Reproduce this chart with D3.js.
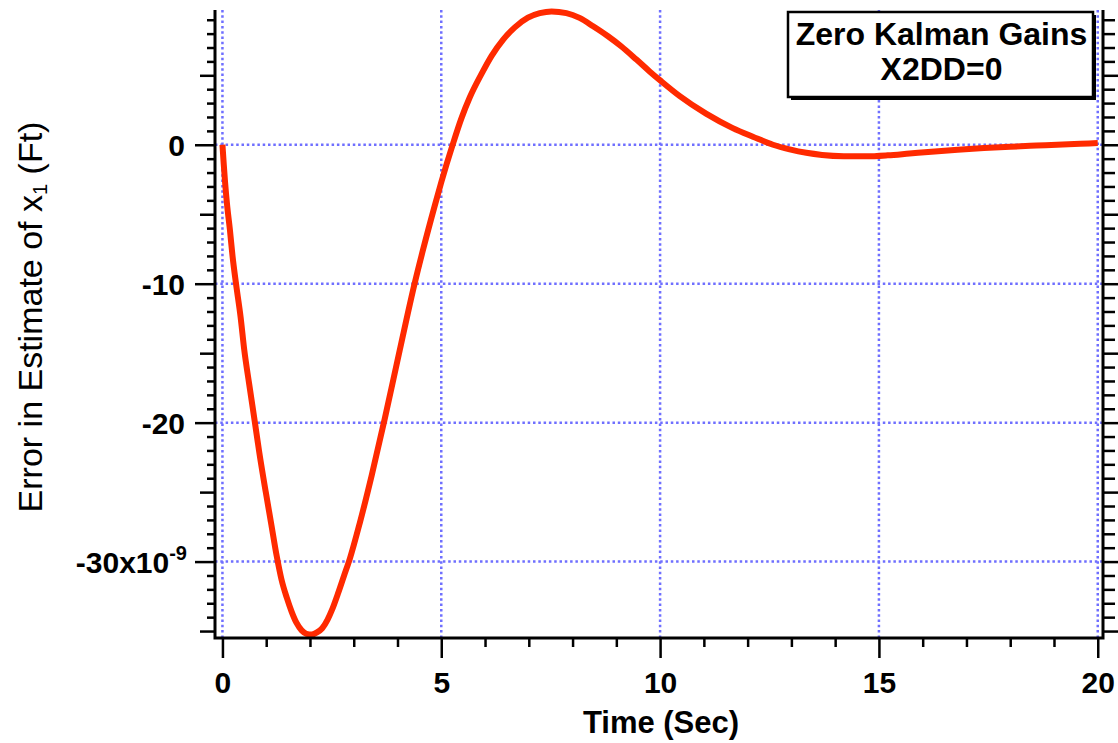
<!DOCTYPE html>
<html>
<head>
<meta charset="utf-8">
<script src="https://cdn.jsdelivr.net/npm/d3@7"></script>
<style>
  html, body { margin: 0; padding: 0; background: #fff; }
  svg { display: block; font-family: "Liberation Sans", Arial, Helvetica, sans-serif; }
</style>
</head>
<body>
<svg id="chart" width="1118" height="743"></svg>
<script>
// Error in the estimate of x1 (units of 1e-9 ft) versus time
const timeSec = [0, 0.03, 0.06, 0.11, 0.17, 0.23, 0.31, 0.415, 0.5, 0.61, 0.74, 0.84, 0.99, 1.11, 1.24,
  1.35, 1.47, 1.58, 1.69, 1.81, 1.92, 2.04, 2.16, 2.28, 2.4, 2.5, 2.64, 2.78, 2.91, 3.14, 3.41, 3.71,
  4.05, 4.39, 4.58, 4.85, 5.0, 5.27, 5.46, 5.65, 5.92, 6.15, 6.41, 6.68, 6.98, 7.25, 7.52, 7.86, 8.16,
  8.47, 8.81, 9.11, 9.46, 9.76, 10.03, 10.45, 11.05, 11.66, 12.12, 12.58, 12.96, 13.34, 13.7, 14.2,
  14.7, 15.2, 15.7, 16.2, 16.8, 17.4, 18.0, 18.6, 19.2, 19.6, 20];
const errorX1 = [0, -1.4, -2.7, -4.45, -6.1, -8.0, -10.0, -12.4, -14.8, -17.2, -19.95, -22.1, -25.0, -27.2, -29.6,
  -31.3, -32.6, -33.6, -34.4, -34.95, -35.2, -35.25, -35.1, -34.8, -34.2, -33.5, -32.3, -31.0, -29.8, -27.2, -23.8, -19.7,
  -14.8, -10.0, -7.6, -4.4, -2.7, 0.1, 1.9, 3.4, 5.1, 6.4, 7.55, 8.45, 9.15, 9.47, 9.6, 9.48, 9.13,
  8.53, 7.81, 7.09, 6.13, 5.28, 4.56, 3.5, 2.24, 1.2, 0.58, 0.0, -0.33, -0.58, -0.73, -0.82,
  -0.83, -0.76, -0.63, -0.5, -0.36, -0.24, -0.14, -0.06, 0.02, 0.07, 0.12];

const xDomain = [-0.17, 20.12];
const yDomain = [-35.5, 9.7];
const xTicks = d3.range(0, 21, 1);
const xLabeled = [0, 5, 10, 15, 20];
const yTicks = d3.range(-35, 10, 1);
const yLabeled = [0, -10, -20, -30];
const yExponent = "-9";
const legendLines = ["Zero Kalman Gains", "X2DD=0"];
const xTitle = "Time (Sec)";

const svg = d3.select("#chart");
const plotL = 215, plotR = 1103, plotT = 10, plotB = 638;

const x = d3.scaleLinear().domain(xDomain).range([plotL, plotR]);
const y = d3.scaleLinear().domain(yDomain).range([plotB, plotT]);

const gridColor = "#6f6fff";

// dotted grid
svg.append("g").selectAll("line").data(xLabeled).join("line")
  .attr("x1", d => x(d)).attr("x2", d => x(d))
  .attr("y1", plotT).attr("y2", plotB)
  .attr("stroke", gridColor).attr("stroke-width", 2.5).attr("stroke-dasharray", "2.5,2.8");
svg.append("g").selectAll("line").data(yLabeled).join("line")
  .attr("x1", plotL).attr("x2", plotR)
  .attr("y1", d => y(d)).attr("y2", d => y(d))
  .attr("stroke", gridColor).attr("stroke-width", 2.5).attr("stroke-dasharray", "2.5,2.8");

// data curve
const line = d3.line()
  .x((d, i) => x(timeSec[i]))
  .y(d => y(d))
  .curve(d3.curveMonotoneX);
svg.append("path")
  .datum(errorX1)
  .attr("d", line)
  .attr("fill", "none")
  .attr("stroke", "#ff2a00")
  .attr("stroke-width", 6)
  .attr("stroke-linejoin", "round");

const tickFont = "bold 30px 'Liberation Sans', Arial, sans-serif";
const yLen = d => (d % 10 === 0 ? 20 : d % 5 === 0 ? 15 : 8);
const fmt = d => (d < 0 ? "-" + Math.abs(d) : String(d));

// left axis
const gl = svg.append("g").attr("transform", `translate(${plotL},0)`)
  .call(d3.axisLeft(y).tickValues(yTicks).tickSizeOuter(0)
    .tickFormat(d => (yLabeled.includes(d) ? fmt(d) : "")));
gl.select(".domain").remove();
gl.selectAll(".tick line").attr("x2", d => -yLen(d)).attr("stroke", "#000").attr("stroke-width", 2.5);
gl.selectAll(".tick text")
  .attr("x", -30).attr("dy", "0.36em")
  .style("font", tickFont).attr("fill", "#000");
gl.selectAll(".tick text").filter(d => d === -30).each(function (d) {
  const t = d3.select(this);
  t.text(fmt(d) + "x10");
  t.attr("x", -28);
  t.append("tspan").attr("dy", "-0.62em").style("font-size", "20px").text(yExponent);
});

// right axis (mirror ticks, no labels)
const gr = svg.append("g").attr("transform", `translate(${plotR},0)`)
  .call(d3.axisRight(y).tickValues(yTicks).tickSizeOuter(0).tickFormat(""));
gr.select(".domain").remove();
gr.selectAll(".tick line").attr("x2", d => yLen(d) + 4).attr("stroke", "#000").attr("stroke-width", 2.5);

// bottom axis
const gb = svg.append("g").attr("transform", `translate(0,${plotB})`)
  .call(d3.axisBottom(x).tickValues(xTicks).tickSizeOuter(0)
    .tickFormat(d => (xLabeled.includes(d) ? fmt(d) : "")));
gb.select(".domain").remove();
gb.selectAll(".tick line").attr("y2", d => (d % 5 === 0 ? 20 : 9)).attr("stroke", "#000").attr("stroke-width", 2.5);
gb.selectAll(".tick text").attr("y", 55).attr("dy", 0)
  .style("font", tickFont).attr("fill", "#000");

// axis lines
svg.append("path")
  .attr("d", `M${plotL},${plotT} V${plotB} H${plotR} V${plotT}`)
  .attr("fill", "none").attr("stroke", "#000").attr("stroke-width", 3);

// axis titles
svg.append("text")
  .attr("x", 661).attr("y", 733)
  .attr("text-anchor", "middle")
  .style("font", "bold 31px 'Liberation Sans', Arial, sans-serif")
  .text(xTitle);

const yTitle = svg.append("text")
  .attr("transform", "translate(42,317) rotate(-90)")
  .attr("text-anchor", "middle")
  .style("font", "34px 'Liberation Sans', Arial, sans-serif");
yTitle.append("tspan").text("Error in Estimate of x");
yTitle.append("tspan").attr("dy", "0.25em").style("font-size", "20px").text("1");
yTitle.append("tspan").attr("dy", "-0.15em").text(" (Ft)");

// annotation box
const bx = 788, by = 12, bw = 305, bh = 85;
svg.append("rect").attr("x", bx + 3).attr("y", by + 3).attr("width", bw).attr("height", bh).attr("fill", "#000");
svg.append("rect").attr("x", bx).attr("y", by).attr("width", bw).attr("height", bh)
  .attr("fill", "#fff").attr("stroke", "#000").attr("stroke-width", 2.5);
svg.append("g").selectAll("text").data(legendLines).join("text")
  .attr("x", bx + bw / 2 + 1).attr("y", (d, i) => 45 + i * 35)
  .attr("text-anchor", "middle")
  .style("font", "bold 32px 'Liberation Sans', Arial, sans-serif")
  .text(d => d);
</script>
</body>
</html>
